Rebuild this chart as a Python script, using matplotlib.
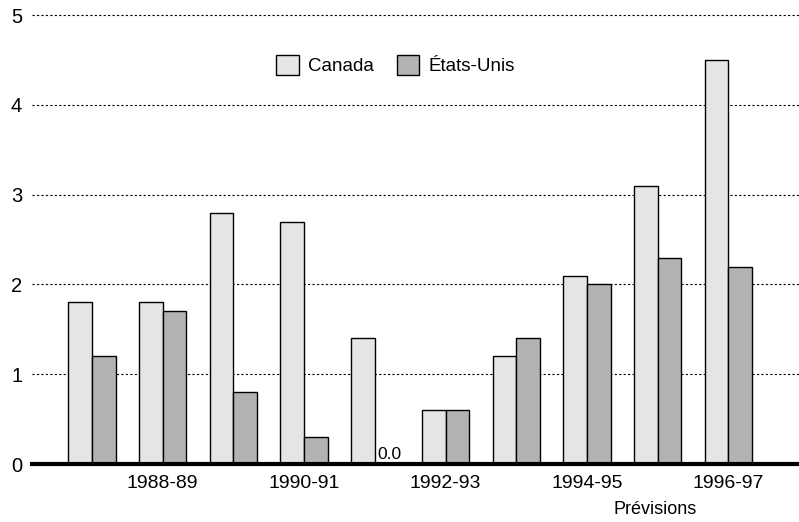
import numpy as np
import matplotlib.pyplot as plt

plt.rcParams['font.family'] = ['Liberation Sans', 'DejaVu Sans']

annees = ['1987-88', '1988-89', '1989-90', '1990-91', '1991-92',
          '1992-93', '1993-94', '1994-95', '1995-96', '1996-97']
canada = [1.8, 1.8, 2.8, 2.7, 1.4, 0.6, 1.2, 2.1, 3.1, 4.5]
etats_unis = [1.2, 1.7, 0.8, 0.3, 0.0, 0.6, 1.4, 2.0, 2.3, 2.2]

fig = plt.figure(figsize=(7.99, 5.22), dpi=100)
ax = fig.add_axes([0.04, 0.111, 0.96, 0.860])

x = np.arange(len(annees))
w = 0.335
ax.bar(x - w / 2, canada, w, color='#e5e5e5', edgecolor='black', linewidth=1.0,
       label='Canada', zorder=3)
ax.bar(x + w / 2, etats_unis, w, color='#b3b3b3', edgecolor='black', linewidth=1.0,
       label='États-Unis', zorder=3)

# valeur nulle des États-Unis en 1991-92
ax.text(x[4] + w / 2 + 0.04, 0.02, '0.0', ha='center', va='bottom', fontsize=12.5, zorder=4)

ax.set_xlim(-0.85, 10.0)
ax.set_ylim(0, 5)
ax.set_yticks([0, 1, 2, 3, 4, 5])
ax.set_yticklabels(['0', '1', '2', '3', '4', '5'], fontsize=14.5)
ax.set_xticks(x[1::2])
ax.set_xticklabels(annees[1::2], fontsize=14)
ax.tick_params(axis='both', length=0)
ax.tick_params(axis='y', pad=7)
ax.tick_params(axis='x', pad=8)

for yv in [1, 2, 3, 4, 5]:
    ax.axhline(yv, color='black', linestyle=(0, (2, 2)), linewidth=0.8, zorder=1,
               clip_on=False)
ax.axhline(0, color='black', linewidth=3, zorder=5, clip_on=False)

for s in ax.spines.values():
    s.set_visible(False)

ax.text(x[8] - 0.03, -0.41, 'Prévisions', ha='center', va='top', fontsize=13)

ax.legend(loc='upper center', bbox_to_anchor=(0.474, 0.948), ncol=2, frameon=False,
          fontsize=13.5, handlelength=1.2, handleheight=1.2, columnspacing=1.2,
          handletextpad=0.5)

fig.savefig('out.png', dpi=100)
